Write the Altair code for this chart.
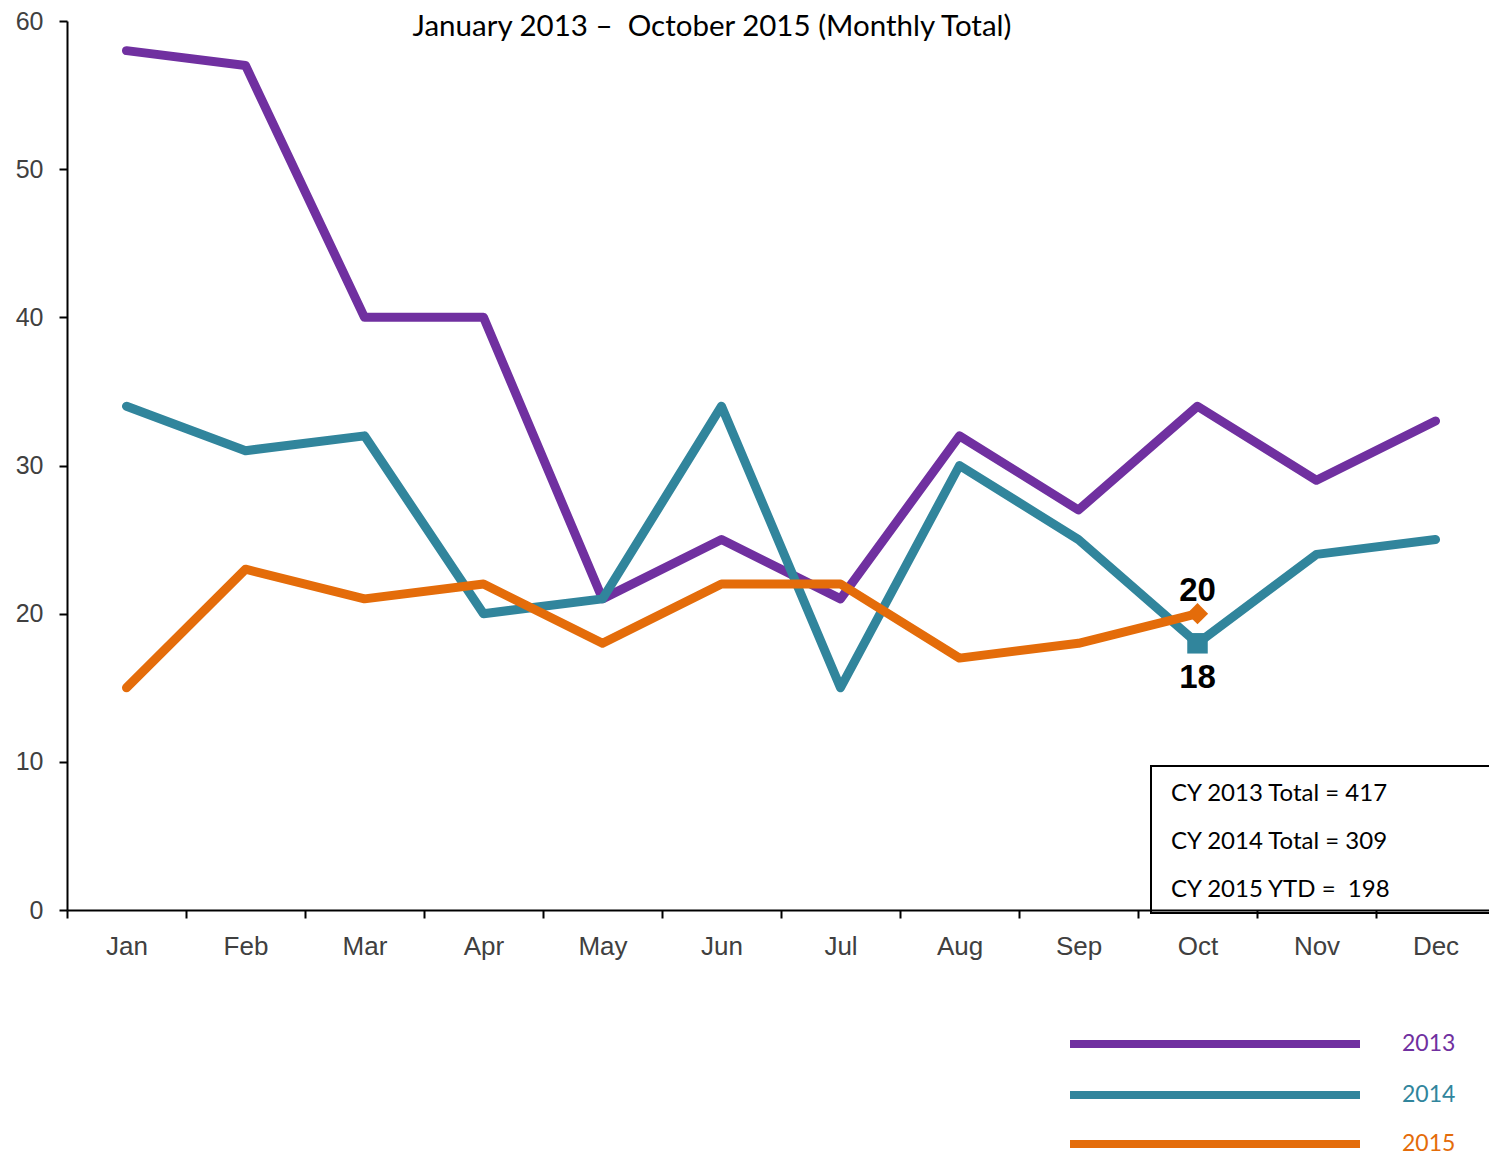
import altair as alt
import pandas as pd

months = ["Jan", "Feb", "Mar", "Apr", "May", "Jun", "Jul", "Aug", "Sep", "Oct", "Nov", "Dec"]
v2013 = [58, 57, 40, 40, 21, 25, 21, 32, 27, 34, 29, 33]
v2014 = [34, 31, 32, 20, 21, 34, 15, 30, 25, 18, 24, 25]
v2015 = [15, 23, 21, 22, 18, 22, 22, 17, 18, 20]
series = ["2013", "2014", "2015"]
colors = ["#7030A0", "#31859C", "#E46C0A"]
title_text = "January 2013 \u2013\u00a0 October 2015 (Monthly Total)"
box_lines = ["CY 2013 Total = 417", "CY 2014 Total = 309", "CY 2015 YTD =\u00a0 198"]
ann_month = "Oct"
ann_2015 = 20
ann_2014 = 18

rows = []
for s, vals in zip(series, [v2013, v2014, v2015]):
    for m, v in zip(months, vals):
        rows.append({"series": s, "month": m, "value": v})
df = pd.DataFrame(rows)
one = pd.DataFrame({"a": [0]})

LABEL_FONT = "Liberation Sans"
CAL_FONT = "Lato"

x_enc = alt.X(
    "month:N", sort=months, bandPosition=0.5,
    scale=alt.Scale(type="band", domain=months, paddingInner=0, paddingOuter=0, range=[0, 1428]),
    axis=alt.Axis(title=None, labelAngle=0, tickBand="extent", domainColor="black",
                  domainWidth=2, tickColor="black", tickWidth=2, tickSize=8,
                  labelFont=LABEL_FONT, labelFontSize=26, labelColor="#404040",
                  labelPadding=15, grid=False, zindex=1),
)
y_enc = alt.Y(
    "value:Q", scale=alt.Scale(domain=[0, 60], nice=False, zero=True),
    axis=alt.Axis(title=None, values=[0, 10, 20, 30, 40, 50, 60], domainColor="black",
                  domainWidth=2, tickColor="black", tickWidth=2, tickSize=8,
                  labelFont=LABEL_FONT, labelFontSize=25, labelColor="#404040",
                  labelPadding=16, grid=False, zindex=1),
)

lines = alt.Chart(df).mark_line(strokeWidth=9, strokeCap="round", strokeJoin="round").encode(
    x=x_enc, y=y_enc,
    color=alt.Color("series:N", scale=alt.Scale(domain=series, range=colors), legend=None),
)

m14 = pd.DataFrame({"month": [ann_month], "value": [ann_2014], "label": [str(ann_2014)]})
m15 = pd.DataFrame({"month": [ann_month], "value": [ann_2015], "label": [str(ann_2015)]})

xm = alt.X("month:N", sort=months, bandPosition=0.5)

sq = alt.Chart(m14).mark_point(shape="square", filled=True, size=420, color=colors[1], opacity=1).encode(
    x=xm, y="value:Q")
dia = alt.Chart(m15).mark_point(shape="diamond", filled=True, size=450, color=colors[2], opacity=1).encode(
    x=xm, y="value:Q")

t15 = alt.Chart(m15).mark_text(font=LABEL_FONT, fontSize=33, fontWeight="bold", color="black",
                               dy=-23, baseline="middle").encode(
    x=xm, y="value:Q", text="label:N")
t14 = alt.Chart(m14).mark_text(font=LABEL_FONT, fontSize=33, fontWeight="bold", color="black",
                               dy=35, baseline="middle").encode(
    x=xm, y="value:Q", text="label:N")

title = alt.Chart(one).mark_text(text=title_text, font=CAL_FONT, fontSize=29.5, color="black",
                                 baseline="middle", align="center").encode(
    x=alt.value(645), y=alt.value(6))

box = alt.Chart(one).mark_rect(fill="white", stroke="black", strokeWidth=2).encode(
    x=alt.value(1084), x2=alt.value(1440), y=alt.value(745), y2=alt.value(892))

box_text = alt.Chart(one).mark_text(text="\n".join(box_lines), lineBreak="\n", lineHeight=48,
                                    font=CAL_FONT, fontSize=24, color="black",
                                    align="left", baseline="alphabetic").encode(
    x=alt.value(1104), y=alt.value(780))

legend_y = [1023, 1074, 1123]
legend_layers = []
for s, c, ly in zip(series, colors, legend_y):
    legend_layers.append(
        alt.Chart(one).mark_rule(color=c, strokeWidth=8).encode(
            x=alt.value(1003), x2=alt.value(1293), y=alt.value(ly)))
    legend_layers.append(
        alt.Chart(one).mark_text(text=s, color=c, font=CAL_FONT, fontSize=23,
                                 align="left", baseline="middle").encode(
            x=alt.value(1335), y=alt.value(ly)))

chart = alt.layer(lines, sq, dia, t15, t14, title, box, box_text, *legend_layers).properties(
    width=1422, height=889,
    background="white",
    autosize=alt.AutoSizeParams(type="none"),
    padding={"left": 59, "top": 13, "right": 0, "bottom": 245},
).configure_view(stroke=None)

chart.save("out.html", embed_options={"renderer": "svg", "actions": False})
